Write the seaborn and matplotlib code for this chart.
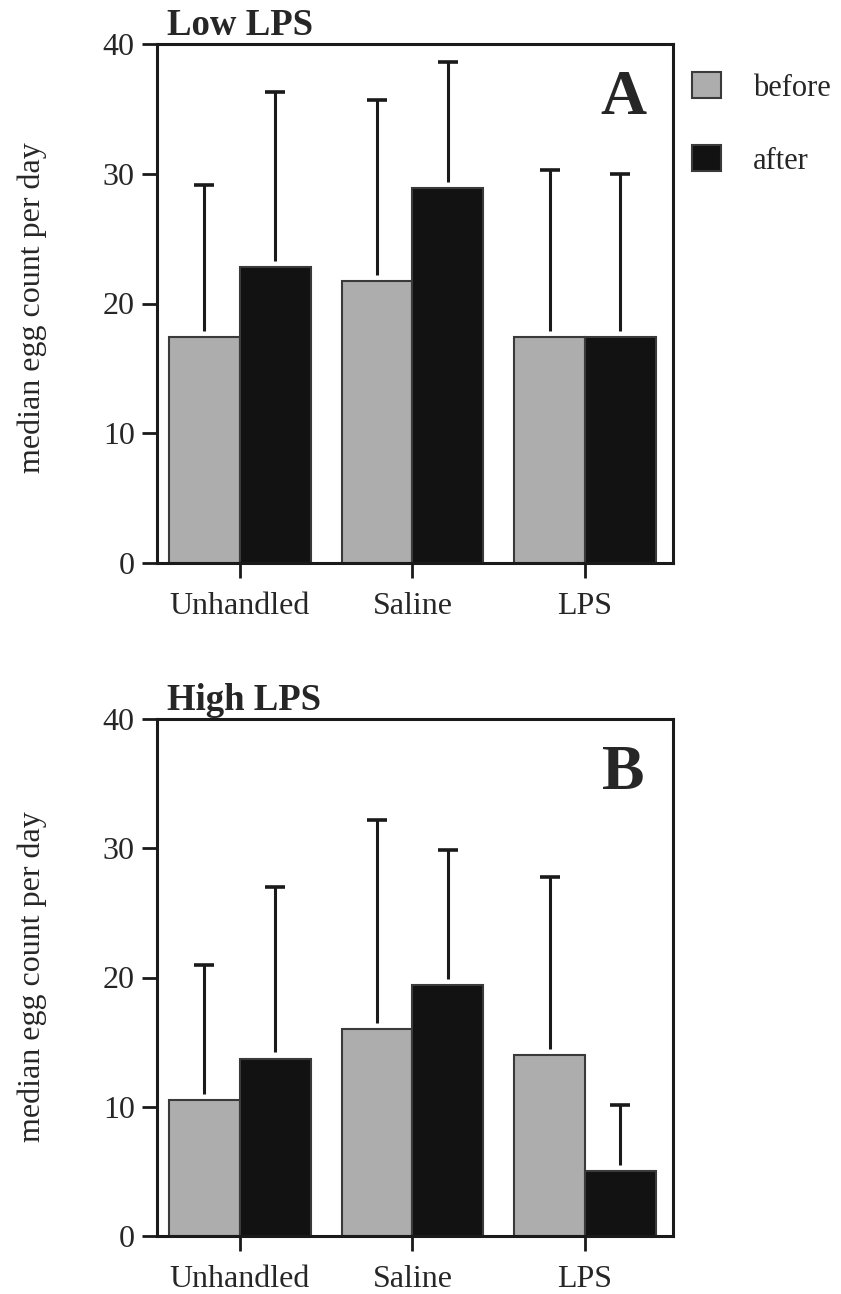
import matplotlib
matplotlib.use("Agg")
import matplotlib.pyplot as plt
import seaborn as sns
import pandas as pd
import numpy as np

# ---- data ----
groups = ["Unhandled", "Saline", "LPS"]
phases = ["before", "after"]

low_before = [17.4, 21.7, 17.4]
low_after = [22.8, 28.9, 17.4]
low_before_top = [29.1, 35.7, 30.3]
low_after_top = [36.3, 38.6, 30.0]

high_before = [10.5, 16.0, 14.0]
high_after = [13.7, 19.4, 5.0]
high_before_top = [21.0, 32.2, 27.8]
high_after_top = [27.0, 29.9, 10.1]

yticks = [0, 10, 20, 30, 40]
panel_titles = ["Low LPS", "High LPS"]
panel_letters = ["A", "B"]
ylabel = "median egg count per day"

sns.set_style("ticks")
plt.rcParams["font.family"] = ["Liberation Serif", "DejaVu Serif"]

W, H = 841, 1294
fig = plt.figure(figsize=(W / 100, H / 100), dpi=100)

def fx(px):
    return px / W

def fy(py):
    return 1 - py / H

ax_top = fig.add_axes([fx(157), fy(563), fx(673) - fx(157), fy(44) - fy(563)])
ax_bot = fig.add_axes([fx(157), fy(1236), fx(673) - fx(157), fy(719) - fy(1236)])

palette = {"before": "#adadad", "after": "#121212"}
ERR_GAP = 0.5  # visual gap between bar top and start of error line


def panel(ax, before, after, btop, atop, title, letter):
    df = pd.DataFrame({
        "group": groups * 2,
        "phase": ["before"] * len(groups) + ["after"] * len(groups),
        "value": before + after,
    })
    sns.barplot(data=df, x="group", y="value", hue="phase", order=groups,
                hue_order=phases, palette=palette, width=0.82, gap=0,
                errorbar=None, edgecolor="#3a3a3a", linewidth=1.5,
                saturation=1, legend=False, ax=ax)
    for cont, vals, tops in zip(ax.containers, [before, after], [btop, atop]):
        xs = [p.get_x() + p.get_width() / 2 for p in cont.patches]
        v = np.array(vals)
        t = np.array(tops)
        _, caps, _ = ax.errorbar(xs, t, yerr=[t - v - ERR_GAP, np.zeros_like(t)],
                                 fmt="none", ecolor="#1a1a1a", elinewidth=2.2,
                                 capsize=7, capthick=2.6, zorder=1)
        caps[0].set_visible(False)
    ax.set_xlim(-0.48, 2.51)
    ax.set_ylim(0, 40)
    ax.set_yticks(yticks)
    ax.set_xlabel("")
    ax.set_ylabel("")
    for s in ax.spines.values():
        s.set_visible(True)
        s.set_linewidth(2.2)
        s.set_color("#1a1a1a")
    ax.tick_params(axis="both", which="major", direction="out", length=11,
                   width=2, color="#1a1a1a", labelsize=23, top=False, right=False)
    ax.tick_params(axis="y", pad=5)
    ax.tick_params(axis="x", pad=10)
    ax.text(0.02, 1.0 + 9 / 518, title, transform=ax.transAxes, fontsize=26.5,
            fontweight="bold", ha="left", va="baseline")
    ax.text(0.903, 0.865, letter, transform=ax.transAxes, fontsize=46,
            fontweight="bold", ha="center", va="baseline")


panel(ax_top, low_before, low_after, low_before_top, low_after_top,
      panel_titles[0], panel_letters[0])
panel(ax_bot, high_before, high_after, high_before_top, high_after_top,
      panel_titles[1], panel_letters[1])

fig.text(fx(32), fy(308), ylabel, rotation=90, ha="center", va="center", fontsize=23)
fig.text(fx(32), fy(977), ylabel, rotation=90, ha="center", va="center", fontsize=23)

handles = [ax_top.containers[0].patches[0], ax_top.containers[1].patches[0]]
ax_top.legend(handles, phases, loc="upper left", bbox_to_anchor=(1.037, 0.946),
              frameon=False, fontsize=22, handlelength=0.95, handleheight=0.95,
              handletextpad=1.05, labelspacing=1.38, borderpad=0, borderaxespad=0)

fig.savefig("out.png", dpi=100, facecolor="white")
